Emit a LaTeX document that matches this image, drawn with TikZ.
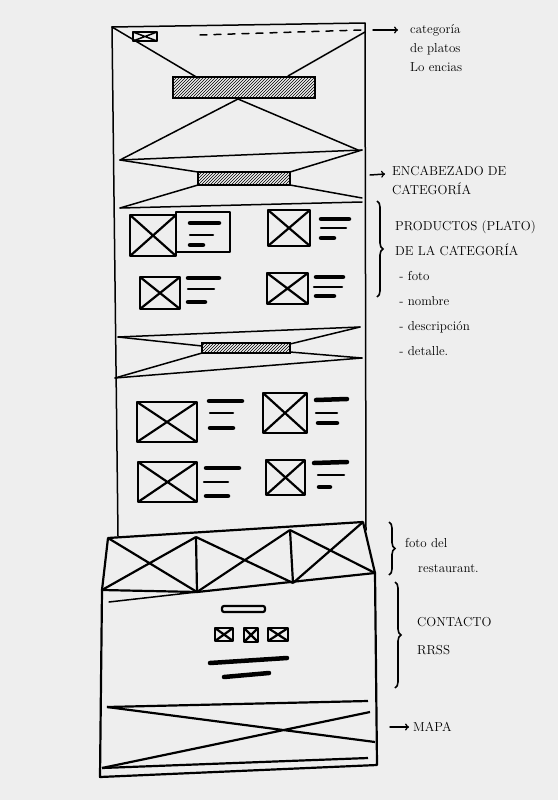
\documentclass[tikz,border=0pt]{standalone}
\usepackage{tikz}
\usetikzlibrary{patterns,decorations.pathreplacing}
\definecolor{paper}{RGB}{238,238,238}
\newcommand{\crossbox}[4]{%
  \draw[imgline] (#1,#2) rectangle (#3,#4);
  \draw[imgline] (#1,#2) -- (#3,#4) (#1,#4) -- (#3,#2);}
\tikzset{
  sketch/.style={line width=1.5pt, line cap=round, line join=round},
  imgline/.style={line width=2.2pt, line join=round},
  bar/.style={line width=4.5pt, line cap=round},
  thinbar/.style={line width=2.5pt, line cap=round},
  hatchbar/.style={draw, line width=1.8pt, fill=black!25, pattern=north east lines},
  lbl/.style={anchor=west, inner sep=0pt, align=left,
    font=\fontsize{13}{19}\selectfont},
  bracket/.style={decorate, decoration={brace, amplitude=6pt}, line width=1.6pt}
}

\begin{document}
\begin{tikzpicture}[x=1pt, y=-1pt]
  \fill[paper] (0,0) rectangle (558,800);
  \useasboundingbox (0,0) rectangle (558,800);

  % column
  \draw[sketch] (112,27) -- (365,23) -- (366,530);
  \draw[sketch] (112,27) -- (118,536);

  % cabecera / hero
  \draw[sketch] (133,32) rectangle (157,41);
  \draw[sketch] (133,32) -- (157,41) (133,41) -- (157,32);
  \draw[sketch, dashed, dash pattern=on 7pt off 7pt] (200,35) -- (362,30);
  \draw[sketch] (112,27) -- (198,78) (365,32) -- (288,76);
  \draw[hatchbar] (173,77) rectangle (315,98);
  \draw[sketch] (238,99) -- (120,160) (238,99) -- (358,150);

  % encabezado de categoria
  \draw[sketch] (120,160) -- (362,150);
  \draw[sketch] (120,160) -- (198,172) (290,185) -- (362,198);
  \draw[sketch] (362,150) -- (290,172) (198,185) -- (120,208);
  \draw[hatchbar] (198,172) rectangle (290,185);
  \draw[sketch] (120,208) -- (362,202);

  % productos 1
  \draw[imgline] (176,212) rectangle (230,252);
  \crossbox{130}{215}{176}{256}
  \draw[bar] (190,223) -- (219,223);
  \draw[thinbar] (190,235) -- (213,235);
  \draw[bar] (190,245) -- (203,245);
  \crossbox{268}{210}{310}{246}
  \draw[bar] (321,219) -- (349,219);
  \draw[thinbar] (321,228) -- (346,228);
  \draw[bar] (321,238) -- (334,238);
  \crossbox{140}{277}{180}{309}
  \draw[bar] (188,278) -- (219,278);
  \draw[thinbar] (188,289) -- (214,289);
  \draw[bar] (188,302) -- (205,302);
  \crossbox{267}{273}{308}{304}
  \draw[bar] (316,277) -- (343,277);
  \draw[thinbar] (314,287) -- (342,287);
  \draw[bar] (316,296) -- (334,296);

  % encabezado de categoria 2
  \draw[sketch] (118,337) -- (360,327);
  \draw[sketch] (118,337) -- (202,346) (290,352) -- (362,358);
  \draw[sketch] (360,327) -- (290,344) (202,353) -- (115,378);
  \draw[hatchbar] (202,343) rectangle (290,353);
  \draw[sketch] (115,378) -- (362,358);

  % productos 2
  \crossbox{137}{402}{197}{442}
  \draw[bar] (209,401) -- (242,401);
  \draw[thinbar] (210,413) -- (233,413);
  \draw[bar] (210,428) -- (233,428);
  \crossbox{263}{393}{307}{433}
  \draw[bar] (316,400) -- (347,399);
  \draw[thinbar] (316,413) -- (337,413);
  \draw[bar] (318,423) -- (337,423);
  \crossbox{138}{462}{197}{502}
  \draw[bar] (206,468) -- (239,468);
  \draw[thinbar] (204,482) -- (228,482);
  \draw[bar] (206,496) -- (228,496);
  \crossbox{266}{460}{305}{495}
  \draw[bar] (314,463) -- (347,462);
  \draw[thinbar] (318,475) -- (344,475);
  \draw[bar] (319,487) -- (330,487);

  % fotos del restaurante
  \draw[imgline] (108,538) -- (363,522) -- (375,573) -- (197,592) -- (102,590) -- cycle;
  \draw[imgline] (196,537) -- (197,592) (290,530) -- (293,583);
  \draw[imgline] (108,538) -- (197,592) (196,537) -- (102,590);
  \draw[imgline] (196,537) -- (293,583) (290,530) -- (197,592);
  \draw[imgline] (290,530) -- (375,573) (363,522) -- (293,583);

  % contacto
  \draw[imgline] (102,590) -- (100,777) -- (377,765) -- (375,573);
  \draw[sketch] (109,602) -- (197,592);
  \draw[imgline, rounded corners=2pt] (222,606) rectangle (265,612);
  \crossbox{215}{628}{233}{641}
  \crossbox{244}{628}{258}{642}
  \crossbox{268}{628}{288}{641}
  \draw[bar] (210,663) -- (287,658);
  \draw[bar] (224,677) -- (269,673);

  % mapa
  \draw[imgline] (107,707) -- (368,701);
  \draw[imgline] (107,707) -- (375,742) (370,712) -- (102,768);
  \draw[imgline] (102,768) -- (368,758);

  % notas
  \node[lbl] (cat) at (410,48) {categoría\\de platos\\Lo encias};
  \coordinate (catp) at (373,30);
  \draw[sketch, ->] (catp) -- (398,30);

  \node[lbl] (enc) at (392,180) {ENCABEZADO DE\\CATEGORÍA};
  \coordinate (encp) at (370,175);
  \draw[sketch, ->] (encp) -- (385,174);

  \node[lbl, font=\fontsize{13}{25}\selectfont] (prod) at (395,288)
    {PRODUCTOS (PLATO)\\DE LA CATEGORÍA\\\ - foto\\\ - nombre\\\ - descripción\\\ - detalle.};
  \draw[bracket] (377,201) -- (377,297);

  \node[lbl, font=\fontsize{13}{25}\selectfont] (fot) at (405,555) {foto del\\\quad restaurant.};
  \draw[bracket] (389,522) -- (389,575);

  \node[lbl, font=\fontsize{13}{28}\selectfont] (con) at (417,636) {CONTACTO\\RRSS};
  \draw[bracket] (395,582) -- (395,688);

  \node[lbl] (map) at (413,727) {MAPA};
  \coordinate (mapp) at (390,727);
  \draw[sketch, ->, shorten >=4pt] (mapp) -- (map.west);
\end{tikzpicture}
\end{document}
